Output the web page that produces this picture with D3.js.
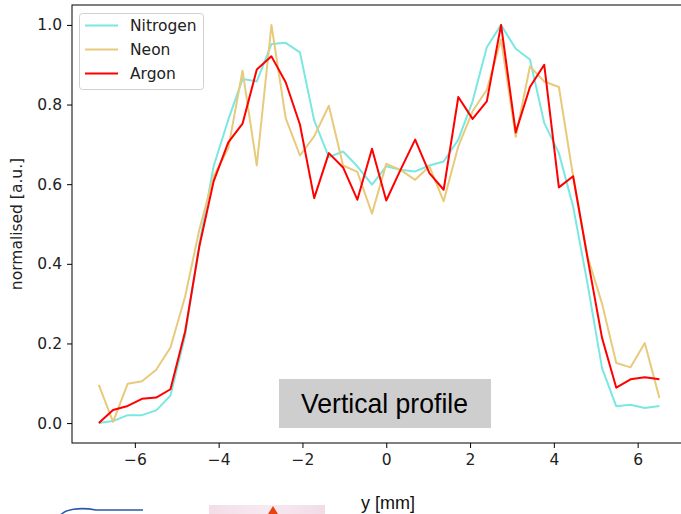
<!DOCTYPE html>
<html>
<head>
<meta charset="utf-8">
<script src="https://cdn.jsdelivr.net/npm/d3@7"></script>
<style>
  body { margin: 0; background: #fff; }
  svg { display: block; }
</style>
</head>
<body>
<script>
// position along the profile [mm]
const yPos = [-6.86, -6.52, -6.17, -5.83, -5.49, -5.15, -4.80, -4.46, -4.12, -3.77,
              -3.43, -3.09, -2.74, -2.40, -2.06, -1.72, -1.37, -1.03, -0.69, -0.34,
               0.00,  0.34,  0.69,  1.03,  1.37,  1.72,  2.06,  2.40,  2.74,  3.09,
               3.43,  3.77,  4.12,  4.46,  4.80,  5.15,  5.49,  5.83,  6.17,  6.52];

const nitrogen = [0.0, 0.005, 0.02, 0.02, 0.032, 0.069, 0.22, 0.45, 0.645, 0.762,
                  0.864, 0.858, 0.952, 0.955, 0.931, 0.76, 0.668, 0.682, 0.645, 0.599,
                  0.645, 0.636, 0.632, 0.647, 0.657, 0.712, 0.808, 0.944, 1.0, 0.94,
                  0.913, 0.754, 0.678, 0.544, 0.352, 0.138, 0.042, 0.046, 0.038, 0.043];

const neon = [0.096, 0.003, 0.099, 0.105, 0.134, 0.19, 0.318, 0.486, 0.62, 0.69,
              0.885, 0.647, 1.0, 0.766, 0.672, 0.72, 0.797, 0.647, 0.631, 0.526,
              0.651, 0.636, 0.611, 0.645, 0.557, 0.695, 0.783, 0.837, 0.963, 0.719,
              0.896, 0.858, 0.844, 0.62, 0.42, 0.30, 0.151, 0.14, 0.201, 0.063];

const argon = [0.0, 0.033, 0.043, 0.061, 0.064, 0.085, 0.23, 0.444, 0.607, 0.705,
               0.752, 0.888, 0.921, 0.856, 0.75, 0.565, 0.678, 0.642, 0.561, 0.689,
               0.559, 0.636, 0.712, 0.628, 0.586, 0.819, 0.764, 0.808, 1.0, 0.73,
               0.844, 0.90, 0.592, 0.62, 0.417, 0.214, 0.089, 0.11, 0.115, 0.11];

const seriesNames = ["Nitrogen", "Neon", "Argon"];
const xTicks = [-6, -4, -2, 0, 2, 4, 6];
const yTicks = [0.0, 0.2, 0.4, 0.6, 0.8, 1.0];

const colors = ["#7ae8e1", "#e8ca7c", "#ff0000"];
const tickFont = "DejaVu Sans, sans-serif";

const width = 681, height = 514;

const svg = d3.select("body").append("svg")
    .attr("width", width)
    .attr("height", height);

// scales (plot box runs past the right edge of the picture)
const xScale = d3.scaleLinear()
    .domain([-7.5, 7.2])
    .range([72, 72 + 14.7 * 41.9]);

const yScale = d3.scaleLinear()
    .domain([-0.05, 1.05])
    .range([443, 5]);

// lines
const line = d3.line()
    .x((d, i) => xScale(yPos[i]))
    .y(d => yScale(d));

[nitrogen, neon, argon].forEach((vals, k) => {
    svg.append("path")
        .datum(vals)
        .attr("fill", "none")
        .attr("stroke", colors[k])
        .attr("stroke-width", 2)
        .attr("stroke-linejoin", "round")
        .attr("d", line);
});

// spines
svg.append("rect")
    .attr("x", 72)
    .attr("y", 5)
    .attr("width", xScale.range()[1] - 72)
    .attr("height", 438)
    .attr("fill", "none")
    .attr("stroke", "#000")
    .attr("stroke-width", 1);

// axes
const xAxis = svg.append("g")
    .attr("transform", "translate(0,443)")
    .call(d3.axisBottom(xScale).tickValues(xTicks).tickSize(5).tickPadding(6)
        .tickFormat(d => d < 0 ? "\u2212" + Math.abs(d) : d));
xAxis.select(".domain").remove();

const yAxis = svg.append("g")
    .attr("transform", "translate(72,0)")
    .call(d3.axisLeft(yScale).tickValues(yTicks).tickSize(5).tickPadding(5)
        .tickFormat(d3.format(".1f")));
yAxis.select(".domain").remove();

svg.selectAll(".tick text")
    .style("font-family", tickFont)
    .style("font-size", "15.5px")
    .style("fill", "#222");
svg.selectAll(".tick line").style("stroke", "#000");

// axis labels
svg.append("text")
    .attr("transform", "translate(22,224) rotate(-90)")
    .style("text-anchor", "middle")
    .style("font-family", tickFont)
    .style("font-size", "15.5px")
    .style("fill", "#222")
    .text("normalised [a.u.]");

svg.append("text")
    .attr("x", 388)
    .attr("y", 509)
    .style("text-anchor", "middle")
    .style("font-family", "Liberation Sans, Arial, sans-serif")
    .style("font-size", "18px")
    .style("fill", "#111")
    .text("y [mm]");

// legend
const legend = svg.append("g");
legend.append("rect")
    .attr("x", 79.5)
    .attr("y", 13.5)
    .attr("width", 124)
    .attr("height", 76)
    .attr("rx", 3)
    .attr("fill", "#fff")
    .attr("fill-opacity", 0.8)
    .attr("stroke", "#d0d0d0");

seriesNames.forEach((name, k) => {
    const ly = 25.5 + k * 24;
    legend.append("line")
        .attr("x1", 85).attr("x2", 118)
        .attr("y1", ly).attr("y2", ly)
        .attr("stroke", colors[k])
        .attr("stroke-width", 2);
    legend.append("text")
        .attr("x", 130)
        .attr("y", ly)
        .attr("dy", "0.35em")
        .style("font-family", tickFont)
        .style("font-size", "15.5px")
        .style("fill", "#222")
        .text(name);
});

// "Vertical profile" tag
svg.append("rect")
    .attr("x", 279)
    .attr("y", 379)
    .attr("width", 212)
    .attr("height", 49)
    .attr("fill", "#cfcecf");

svg.append("text")
    .attr("x", 301)
    .attr("y", 413)
    .attr("textLength", 167)
    .attr("lengthAdjust", "spacingAndGlyphs")
    .style("font-family", "Liberation Sans, Arial, sans-serif")
    .style("font-size", "28px")
    .style("fill", "#000")
    .text("Vertical profile");

// bits of logos peeking in at the bottom edge
svg.append("path")
    .attr("d", "M60,516 C64,509 80,507 96,510 L143,510")
    .attr("fill", "none")
    .attr("stroke", "#2a5aa8")
    .attr("stroke-width", 1.6);

const grad = svg.append("defs").append("linearGradient")
    .attr("id", "pink")
    .attr("x1", 0).attr("x2", 1);
grad.append("stop").attr("offset", 0).attr("stop-color", "#f3dde6");
grad.append("stop").attr("offset", 0.5).attr("stop-color", "#f7eaf0");
grad.append("stop").attr("offset", 1).attr("stop-color", "#f1dce6");

svg.append("rect")
    .attr("x", 209)
    .attr("y", 505)
    .attr("width", 116)
    .attr("height", 9)
    .attr("fill", "url(#pink)");

svg.append("path")
    .attr("d", "M273,506 L278,514 L268,514 Z")
    .attr("fill", "#e8420f");
</script>
</body>
</html>
